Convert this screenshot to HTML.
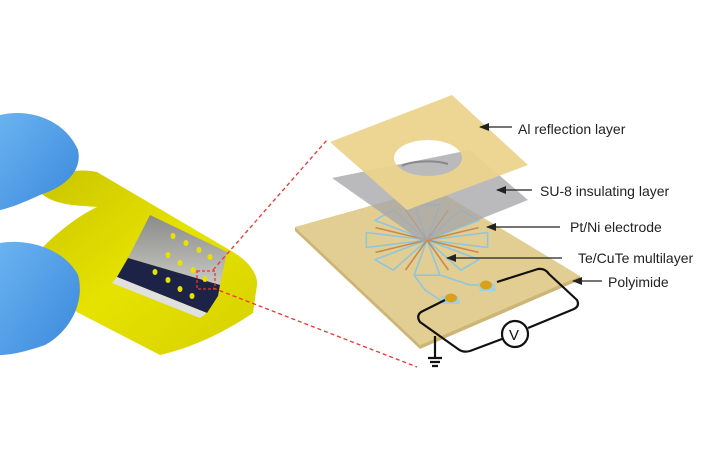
<!DOCTYPE html>
<html><head><meta charset="utf-8"><style>
html,body{margin:0;padding:0;background:#fff}
svg{display:block}
text{font-family:"Liberation Sans",sans-serif;font-size:14px;fill:#222}
</style></head><body>
<svg width="720" height="475" viewBox="0 0 720 475" xmlns="http://www.w3.org/2000/svg">
<defs>
<linearGradient id="film" x1="0" y1="0" x2="1" y2="1">
<stop offset="0" stop-color="#c9c400"/><stop offset="0.5" stop-color="#e6e200"/><stop offset="1" stop-color="#d6d000"/></linearGradient>
<linearGradient id="glove" x1="0" y1="0" x2="1" y2="1">
<stop offset="0" stop-color="#6ab3f0"/><stop offset="1" stop-color="#3a88dc"/></linearGradient>
<linearGradient id="win" x1="0" y1="0" x2="0" y2="1">
<stop offset="0" stop-color="#8a8a88"/><stop offset="1" stop-color="#c8c8c4"/></linearGradient>
<marker id="ah" markerWidth="10" markerHeight="8" refX="1" refY="4" orient="auto" markerUnits="userSpaceOnUse">
<path d="M10,0 L0,4 L10,8 Z" fill="#222"/></marker>
</defs>

<!-- Left photo: film -->
<path d="M33,183 C55,172 80,168 97,172 L233,252 C250,262 258,275 257,285 L253,313 C220,335 190,348 160,355 L73,310 C55,285 45,265 43,247 C60,230 80,215 97,207 C70,205 45,205 33,183 Z" fill="url(#film)"/>
<path d="M43,247 C55,228 75,212 97,207 L60,205 C40,210 20,230 0,245 Z" fill="#fff"/>
<!-- sensor window -->
<path d="M150,215 L227,252 L220,285 L128,258 Z" fill="url(#win)"/>
<path d="M128,258 L220,285 L218,296 L207,313 L117,277 Z" fill="#1d2347"/>
<path d="M117,277 L207,313 L200,318 L112,283 Z" fill="#e0e0e0"/>
<g fill="#e8e200">
<ellipse cx="173" cy="236" rx="2.5" ry="3"/><ellipse cx="186" cy="243" rx="2.5" ry="3"/><ellipse cx="199" cy="250" rx="2.5" ry="3"/><ellipse cx="210" cy="257" rx="2.5" ry="3"/>
<ellipse cx="168" cy="255" rx="2.5" ry="3"/><ellipse cx="180" cy="263" rx="2.5" ry="3"/><ellipse cx="193" cy="270" rx="2.5" ry="3"/><ellipse cx="205" cy="279" rx="2.5" ry="3"/>
<ellipse cx="155" cy="272" rx="2.5" ry="3"/><ellipse cx="168" cy="280" rx="2.5" ry="3"/><ellipse cx="180" cy="289" rx="2.5" ry="3"/><ellipse cx="192" cy="296" rx="2.5" ry="3"/>
</g>
<!-- gloves -->
<path d="M0,115 C30,108 65,120 78,150 C82,168 70,185 40,195 C25,202 10,208 0,210 Z" fill="url(#glove)"/>
<path d="M0,243 C30,238 65,250 78,275 C85,300 72,330 45,345 C25,352 10,355 0,355 Z" fill="url(#glove)"/>
<!-- red dashed zoom -->
<rect x="197" y="271" width="18" height="18" fill="none" stroke="#e33" stroke-width="1.3" stroke-dasharray="3,2"/>
<line x1="213" y1="270" x2="327" y2="140" stroke="#e33" stroke-width="1.3" stroke-dasharray="4,3"/>
<line x1="213" y1="288" x2="417" y2="367" stroke="#e33" stroke-width="1.3" stroke-dasharray="4,3"/>

<!-- Polyimide -->
<path d="M295,227 L434,188 L580,276 L420,345 Z" fill="#e2cd92"/>
<path d="M295,227 L420,345 L580,276 L580,280 L420,349 L295,231 Z" fill="#cdb576"/>
<!-- electrodes -->
<g fill="none" stroke="#8ec6e0" stroke-width="1.6" stroke-linejoin="round">
<path d="M427,240 L487.6,247.5 L487.6,232.5 Z"/>
<path d="M427,240 L479,259.6 L460.8,270.2 Z"/>
<path d="M427,240 L439.9,275.2 L414.1,275.2 Z"/>
<path d="M427,240 L393.2,270.2 L375,259.6 Z"/>
<path d="M427,240 L366.4,247.5 L366.4,232.5 Z"/>
<path d="M427,240 L375,220.4 L393.2,209.8 Z"/>
<path d="M427,240 L414.1,204.8 L439.9,204.8 Z"/>
<path d="M427,240 L460.8,209.8 L479,220.4 Z"/>
<path d="M414,275 L425,290 L443,302"/>
<path d="M440,275 L470,285 L485,285"/>
</g>
<g stroke="#c98a4a" stroke-width="1.6">
<line x1="427" y1="240" x2="478.5" y2="252.4"/><line x1="427" y1="240" x2="448.4" y2="270"/>
<line x1="427" y1="240" x2="405.6" y2="270"/><line x1="427" y1="240" x2="375.5" y2="252.4"/>
<line x1="427" y1="240" x2="375.5" y2="227.6"/><line x1="427" y1="240" x2="405.6" y2="210"/>
<line x1="427" y1="240" x2="448.4" y2="210"/><line x1="427" y1="240" x2="478.5" y2="227.6"/>
</g>
<!-- pads -->
<path d="M441,296 L458,296 L460,304 L443,304 Z" fill="#9fd0e4"/>
<path d="M478,283 L494,283 L496,291 L480,291 Z" fill="#9fd0e4"/>
<ellipse cx="451" cy="298" rx="6" ry="4.5" fill="#d9a11a"/>
<ellipse cx="486" cy="285" rx="6" ry="4.5" fill="#d9a11a"/>
<!-- circuit -->
<g fill="none" stroke="#111" stroke-width="2.2" stroke-linejoin="round">
<path d="M497,282 L538,269 Q545,268 549,274 L577,300 Q580,306 574,309 L528,328"/>
<path d="M502,339 L470,351 Q463,353 458,349 L420,322 Q416,316 421,312 L445,300"/>
<path d="M435,336 L435,357"/>
<path d="M428,358 L442,358 M430,362 L440,362 M432,366 L438,366"/>
</g>
<circle cx="515" cy="334" r="13" fill="#fff" stroke="#111" stroke-width="2.2"/>
<text x="509" y="340" style="font-size:15px;fill:#111">V</text>

<!-- SU-8 -->
<path d="M332,178 L470,150 L528,200 L423,242 Z" fill="#a6a6aa" opacity="0.78"/>
<!-- Al layer with hole -->
<path fill-rule="evenodd" fill="#ecd38d" opacity="0.94" d="M330,142 L452,95 L528,165 L407,210 Z M394,158 A34,18 0 1,0 462,158 A34,18 0 1,0 394,158 Z"/>
<path d="M402,166 A28,8 0 0,1 448,164" fill="none" stroke="#888" stroke-width="2"/>

<!-- labels -->
<g stroke="#222" stroke-width="1.3" marker-start="url(#ah)">
<line x1="480" y1="127" x2="512" y2="127"/>
<line x1="497" y1="190" x2="532" y2="190"/>
<line x1="487" y1="227" x2="560" y2="227"/>
<line x1="447" y1="258" x2="562" y2="258"/>
<line x1="573" y1="281" x2="602" y2="281"/>
</g>
<text x="518" y="134">Al reflection layer</text>
<text x="540" y="196">SU-8 insulating layer</text>
<text x="570" y="232">Pt/Ni electrode</text>
<text x="578" y="263">Te/CuTe multilayer</text>
<text x="608" y="287">Polyimide</text>
</svg>
</body></html>
